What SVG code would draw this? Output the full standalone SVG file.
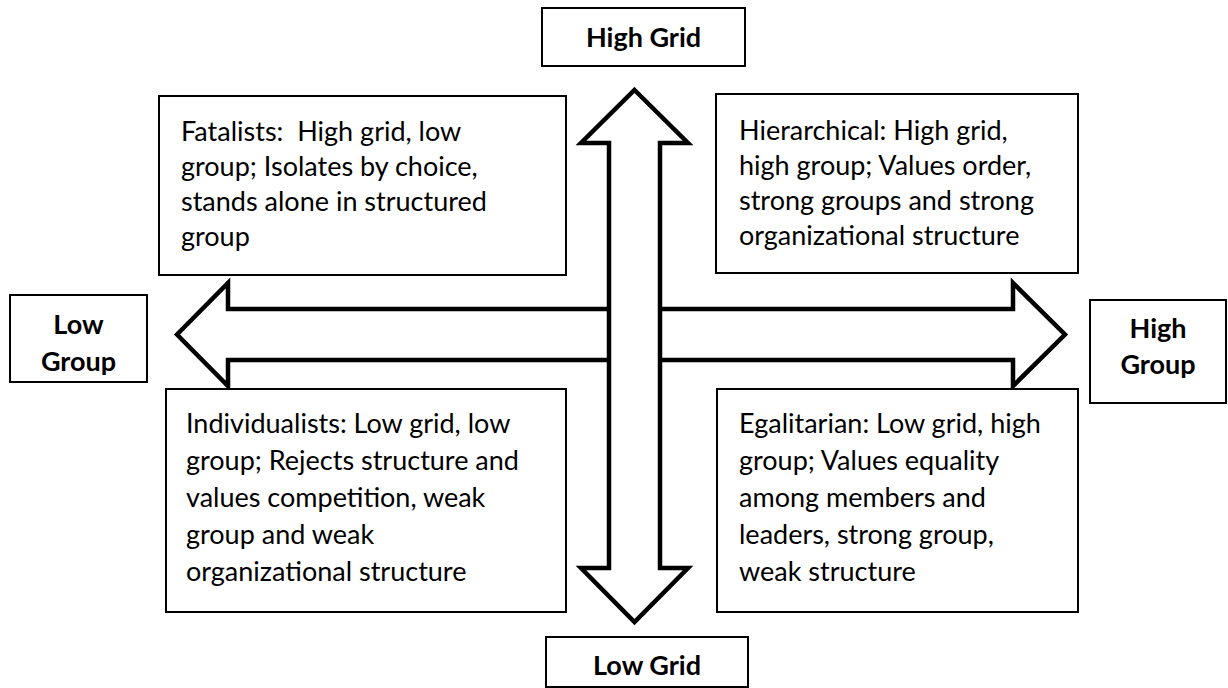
<svg xmlns="http://www.w3.org/2000/svg" width="1228" height="688" viewBox="0 0 1228 688">
<style>
.box{fill:#fff;stroke:#000;stroke-width:2}
.arrow{fill:#fff;stroke:#000;stroke-width:4.5;stroke-linejoin:miter}
.t{font-family:Lato,"Open Sans","Liberation Sans",sans-serif;font-size:27px;fill:#000;white-space:pre}
.b{font-family:Lato,"Open Sans","Liberation Sans",sans-serif;font-size:27px;font-weight:bold;fill:#000;text-anchor:middle}
</style>
<rect width="1228" height="688" fill="#fff"/>
<g id="connectors">
<path class="arrow" d="M177,334.5 L228,283 L228,309 L1013,309 L1013,283 L1065,334.5 L1013,386 L1013,360 L228,360 L228,386 Z"/>
<path class="arrow" d="M634.5,90 L688,143 L660,143 L660,568 L688,568 L634.5,622 L581,568 L609,568 L609,143 L581,143 Z"/>
</g>
<g id="high-grid">
<rect class="box" x="542" y="8" width="203" height="58"/>
<text class="b" x="643.5" y="47">High Grid</text>
</g>
<g id="low-grid">
<rect class="box" x="546" y="637" width="202" height="50"/>
<text class="b" x="647" y="675">Low Grid</text>
</g>
<g id="low-group">
<rect class="box" x="10" y="295" width="137" height="87"/>
<text class="b" x="78.5" y="334">Low</text>
<text class="b" x="78.5" y="371">Group</text>
</g>
<g id="high-group">
<rect class="box" x="1090" y="300" width="136" height="103"/>
<text class="b" x="1158" y="338">High</text>
<text class="b" x="1158" y="374">Group</text>
</g>
<g id="fatalists">
<rect class="box" x="159" y="96" width="407" height="179"/>
<text class="t" x="181" y="141" xml:space="preserve">Fatalists:  High grid, low</text>
<text class="t" x="181" y="176">group; Isolates by choice,</text>
<text class="t" x="181" y="211">stands alone in structured</text>
<text class="t" x="181" y="246">group</text>
</g>
<g id="hierarchical">
<rect class="box" x="716" y="94" width="362" height="179"/>
<text class="t" x="739" y="140">Hierarchical: High grid,</text>
<text class="t" x="739" y="175">high group; Values order,</text>
<text class="t" x="739" y="210">strong groups and strong</text>
<text class="t" x="739" y="245">organizational structure</text>
</g>
<g id="individualists">
<rect class="box" x="166" y="389" width="400" height="223"/>
<text class="t" x="186" y="433">Individualists: Low grid, low</text>
<text class="t" x="186" y="470">group; Rejects structure and</text>
<text class="t" x="186" y="507">values competition, weak</text>
<text class="t" x="186" y="544">group and weak</text>
<text class="t" x="186" y="581">organizational structure</text>
</g>
<g id="egalitarian">
<rect class="box" x="717" y="389" width="361" height="223"/>
<text class="t" x="739" y="433">Egalitarian: Low grid, high</text>
<text class="t" x="739" y="470">group; Values equality</text>
<text class="t" x="739" y="507">among members and</text>
<text class="t" x="739" y="544">leaders, strong group,</text>
<text class="t" x="739" y="581">weak structure</text>
</g>
</svg>
